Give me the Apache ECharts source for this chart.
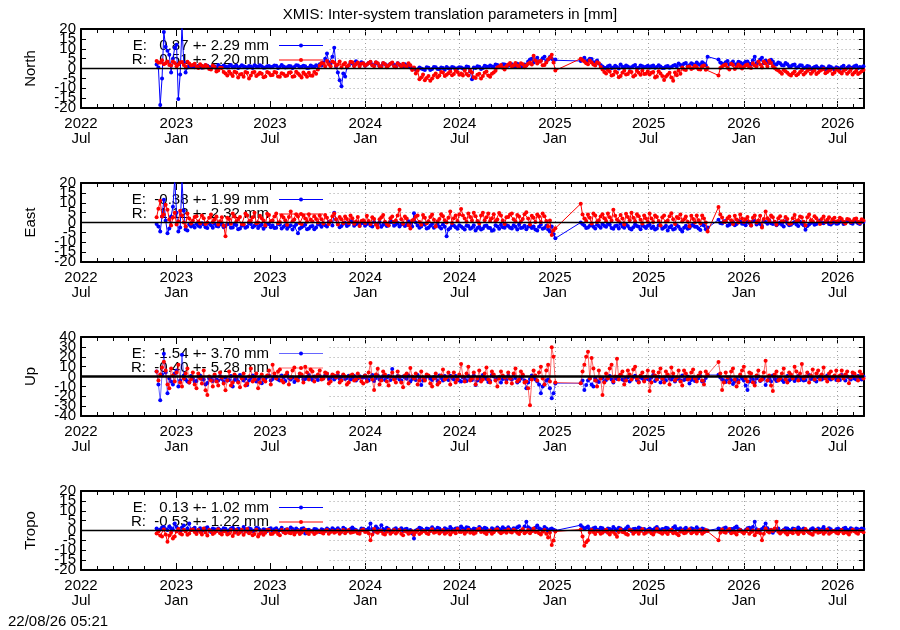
<!DOCTYPE html>
<html>
<head>
<meta charset="utf-8">
<script src="https://cdn.jsdelivr.net/npm/echarts@6/dist/echarts.min.js"></script>
<style>
html, body { margin: 0; padding: 0; background: #fff; }
#chart { width: 900px; height: 630px; }
</style>
</head>
<body>
<div id="chart"></div>
<script>
// === DATA ===
// weekly readings start 2022-11-24; the "Mid" arrays are the readings half a week later
const firstEpoch = [2022, 10, 24];
const stepDays = 7;

const northE = [
    2.0, -18.5, 18.5, 9.0, -2.0, 10.5, -15.5, 21, -2.0, 1.5,
    1.2, 0.8, 1.6, 0.9, 1.4, 0.5, 1.1, 1.8, 0.7,
    1.0, 1.3, 0.6, 1.5, 0.9, 1.2, 0.4, 1.0, 1.6, 0.8, 1.1, 0.5, 1.3,
    0.9, 1.4, 0.7, 1.0, 0.6, 1.2, 0.8, 1.5, 0.9, 1.1, 0.4, 1.0, 1.7,
    2.2, 3.0, 7.6, 2.5, 10.5, -2.0, -9.0, -4.0, 1.5, 2.5, 3.7, 1.8, 2.6,
    2.0, 3.2, 1.5, 2.4, 1.0, 2.2, 1.6, 2.8, 1.2, 2.0, 0.8, 1.5, 0.5,
    0.2, -0.5, 0.0, -0.8, 0.4, -0.2, 0.6, -0.4, 0.3, 0.8, -0.3, 0.5, 0.1,
    0.5, -0.2, 0.8, -5.5, 0.3, 0.9, 0.2, 1.0, 1.5, 0.6, 1.8, 1.2, 2.0,
    1.4, 2.2, 1.0, 1.8, 0.8, 1.5, 4.5, 3.0, 5.5, 4.0, 6.0, 4.5, 5.0,
    4.5, null, null, null, null, null, null, 3.8, 5.5, 4.0, 4.8, 3.0, 2.5,
    1.0, 0.2, 1.5, 0.5, 0.8, 2.0, 0.3, 1.0, 0.6, 1.8, 0.4, 1.2, 0.9,
    0.5, 1.5, 0.8, 1.0, 0.2, 1.3, 0.7, 1.8, 2.5, 1.5, 2.8, 1.6, 2.2,
    3.0, 1.8, 2.5, 6.0, null, null, 4.5, 2.5, 3.2, 2.0, 3.5, 2.2, 3.0,
    2.6, 3.6, 2.0, 6.0, 3.0, 5.4, 4.0, 2.8, 3.5, 2.0, 2.6, 1.5, 2.2,
    1.2, 2.0, 0.8, 1.5, 0.5, 1.0, 0.3, 1.2, -0.2, 0.6, 0.0, 0.8, -0.5,
    0.3, 0.8, -0.3, 1.2, 0.5, 1.5, 0.8, 1.2
];
const northEMid = [
    0.5, -5.0, 11.0, 7.0, 5.0, 12.0, -3.0, 3.0, 0.5, 1.0,
    0.6, 1.4, 0.4, 1.7, 0.8, 1.2, 0.3, 1.0, 1.5,
    0.5, 1.8, 1.0, 0.3, 1.6, 0.7, 1.3, 0.2, 1.1, 1.7, 0.4, 1.2, 0.6,
    1.5, 0.3, 1.8, 0.5, 1.3, 0.2, 1.6, 0.6, 1.4, 0.3, 1.5, 0.8, 1.2,
    1.5, 5.0, 3.0, 6.0, 1.0, -6.0, -2.5, 0.5, 3.0, 1.5, 2.8, 3.2, 1.4,
    2.8, 1.8, 3.0, 1.2, 2.6, 1.0, 2.4, 1.8, 2.6, 1.4, 2.2, 0.8, 0.0,
    -0.6, 0.5, -0.4, 0.6, -0.8, 0.8, -0.2, 0.5, -0.6, 0.1, 0.7, -0.4, 0.6,
    0.0, 1.0, -1.5, 0.5, 1.2, -0.2, 1.4, 0.8, 1.0, 2.0, 0.8, 2.2, 1.6,
    2.0, 1.2, 2.4, 1.0, 2.0, 3.5, 5.0, 4.2, 3.6, 5.2, 3.8, 5.8, 4.2,
    null, null, null, null, null, null, null, 4.5, 3.5, 5.0, 3.2, 4.0, 1.8,
    0.4, 1.2, 0.2, 1.4, 0.0, 0.9, 1.5, 0.4, 1.3, 0.2, 1.5, 0.6, 1.4,
    1.2, 0.4, 1.6, 0.3, 1.0, 0.4, 1.4, 1.0, 1.8, 2.4, 1.2, 2.6, 1.8,
    2.2, 3.2, 1.6, null, null, null, 3.0, 1.8, 3.8, 2.6, 2.0, 3.4, 2.2,
    3.4, 2.4, 4.2, 2.6, 4.5, 2.6, 3.2, 4.4, 2.2, 3.0, 1.6, 2.8, 1.0,
    1.8, 0.4, 1.6, 0.2, 1.3, -0.3, 0.8, 0.2, 1.0, -0.4, 1.2, 0.1, 0.6,
    -0.2, 1.4, 0.4, 0.2, 1.2, 0.2, 0.5
];
const northR = [
    3.8, 3.0, 2.2, 3.5, 1.5, 2.8, 2.0, 3.3, 1.0, 2.5,
    1.8, 1.0, 2.2, 0.5, 1.2, -0.5, 0.8, -1.0, 0.2,
    -2.5, -1.5, -3.8, -2.0, -3.0, -4.2, -2.2, -3.5, -1.8, -3.0, -2.6, -4.0, -2.3,
    -3.3, -2.0, -4.2, -2.8, -3.5, -1.9, -3.9, -2.5, -4.5, -3.0, -2.2, -3.7, -2.6,
    1.5, 2.5, 3.8, 1.2, 3.0, 2.0, 0.5, 2.8, 1.6, 3.2, 2.2, 1.0, 2.6,
    2.0, 3.4, 1.2, 2.6, 0.8, 2.2, 1.5, 3.0, 0.6, 1.8, 2.4, 0.9, 1.6,
    0.5, -1.0, -4.5, -6.0, -3.8, -5.0, -2.5, -3.5, -2.0, -3.2, -1.5, -2.8, -1.8,
    -2.5, -1.0, -3.5, -2.0, -4.8, -2.7, -3.8, -1.5, -4.2, -2.0, 0.5, 1.8, -0.5,
    2.0, 1.0, 2.8, 0.8, 2.2, 1.5, 3.0, 6.5, 2.5, 3.8, 1.8, 4.5, 7.0,
    -1.0, null, null, null, null, null, null, 5.0, 3.5, 2.2, 3.0, 1.5, 2.6,
    -0.5, -2.5, -1.5, -3.2, -2.0, -3.8, -1.2, -2.8, -1.8, -3.4, -2.2, -1.0, -2.6,
    -3.0, -1.8, -4.0, -2.5, -5.8, -3.2, -4.5, -2.0, -1.0, 0.5, -0.8, 1.0, 0.2,
    0.8, -0.5, 1.5, 0.2, null, null, -3.5, 1.0, 2.0, -0.5, 1.8, 0.6, 1.2,
    0.8, 2.0, 0.2, 1.5, 3.5, 0.5, 2.5, 4.0, 1.2, -0.5, -1.8, -0.8, -2.2,
    -3.5, -1.5, -2.8, -1.0, -2.2, -0.5, -1.6, -2.8, -1.2, -0.2, -1.8, -0.6, -2.0,
    -1.0, -2.5, -0.5, -1.8, -3.0, -1.2, -2.2, -0.8
];
const northRMid = [
    3.0, 4.2, 2.6, 1.8, 3.6, 1.2, 3.0, 1.8, 3.4, 1.5,
    2.4, 0.2, 1.4, 1.8, -0.2, 1.5, -1.5, 0.4, -1.8,
    -3.5, -2.6, -1.6, -4.5, -2.8, -1.8, -5.0, -2.0, -3.8, -2.2, -4.4, -1.8, -3.4,
    -1.8, -4.0, -2.4, -3.8, -2.2, -4.2, -1.6, -3.4, -2.0, -4.2, -3.6, -1.8, -0.5,
    2.8, 1.0, 2.2, 3.6, 1.4, 3.6, 2.0, 1.0, 3.4, 1.2, 3.0, 2.4, 1.4,
    2.8, 1.6, 3.2, 1.2, 2.8, 0.6, 2.4, 1.2, 2.6, 0.8, 1.4, 2.6, -0.8,
    -2.5, -5.5, -3.0, -4.8, -6.2, -3.6, -4.4, -1.8, -3.8, -2.4, -3.4, -1.2, -3.2,
    -3.5, -2.8, -1.2, -4.4, -3.2, -5.0, -2.2, -3.6, -2.6, -1.2, 1.0, 0.4, 1.2,
    2.8, 1.6, 1.4, 2.6, 0.6, 2.4, 2.0, 4.0, 3.6, 1.6, 3.0, 5.5, 3.0,
    null, null, null, null, null, null, null, 4.2, 2.6, 4.0, 2.0, 3.2, 0.8,
    -1.8, -0.8, -3.6, -1.4, -4.4, -2.2, -3.0, -1.5, -4.0, -1.2, -3.2, -2.8, -1.4,
    -2.2, -4.6, -1.4, -3.8, -4.0, -2.2, -6.2, -3.4, -2.6, -0.5, 0.8, -0.2, 1.4,
    -0.4, 1.2, -0.6, null, null, null, 0.2, 1.6, 0.4, 2.4, -0.2, 2.0, 0.0,
    1.6, 0.6, 2.6, 1.0, 2.0, 3.6, 1.0, 2.8, 0.2, -1.0, -2.6, -1.4, -3.0,
    -2.4, -3.4, -1.8, -3.0, -1.2, -2.6, -0.8, -2.0, -0.6, -2.4, -1.0, -2.8, -0.4,
    -1.8, -1.2, -2.6, -0.4, -2.0, -2.8, -1.4
];
const eastE = [
    -0.7, -4.6, 11.5, -5.4, 3.0, 22, -4.6, 21, -3.5, -1.0,
    -1.5, -0.8, -2.2, -1.0, -2.8, -1.4, -0.5, -2.0, -1.2,
    -1.8, -0.6, -2.5, -1.3, -3.0, -1.0, -2.2, -0.7, -1.6, -2.8, -1.1, -2.0, -0.9,
    -1.5, -2.6, -1.0, -2.2, -3.2, -1.4, -2.0, -5.4, -2.4, -1.2, -3.0, -1.8, -2.5,
    -1.2, -0.5, -2.0, 0.5, 5.0, -0.8, -1.8, -0.2, -1.2, 0.3, -0.9, -1.6, 0.0,
    -0.8, -1.5, 0.2, -1.0, -2.2, -0.4, -1.4, 0.4, -1.0, -2.0, -0.6, -1.2, -0.3,
    4.7, -1.5, -2.0, -1.0, -2.6, -0.8, -1.8, -2.2, -1.0, -7.0, -2.8, -1.5, -3.2,
    -2.0, -3.5, -1.8, -2.6, -4.0, -2.2, -3.0, -1.5, -2.8, -3.8, -2.0, -1.2, -2.6,
    -1.8, -3.0, -2.2, -1.0, -2.5, -3.4, -1.6, -2.0, -4.0, -1.2, -2.8, -3.5, -2.0,
    -8.0, null, null, null, null, null, null, 0.0, -1.5, -2.5, -1.0, -3.0, -1.8,
    -0.8, -2.2, -1.2, -3.2, -1.5, -0.5, -2.6, -1.8, -3.5, -1.0, -2.2, -1.4, -2.8,
    -1.2, -2.0, -3.0, -1.5, -2.5, -4.0, -1.8, -3.2, -2.2, -4.5, -1.6, -2.8, -1.0,
    -2.2, -3.8, -1.5, -2.5, null, null, 1.4, -0.5, 0.8, -1.2, 0.2, -0.8, 0.5,
    -0.6, 0.4, -1.5, 0.8, -0.3, -1.8, 0.2, 1.2, -0.8, -1.4, 0.0, -2.0, -0.5,
    -1.2, 0.3, -1.8, -0.6, -3.7, -1.0, 0.2, -0.8, 1.0, -0.4, 0.6, -1.0, 0.2,
    -0.5, 0.8, -0.2, 1.2, -0.6, 0.4, -0.8, 0.2
];
const eastEMid = [
    -2.0, 3.0, 1.0, -3.0, 8.0, 5.0, -2.5, 6.0, -4.0, -2.0,
    -2.5, -1.6, -0.4, -2.4, -0.6, -2.6, -1.8, -0.8, -2.4,
    -0.8, -2.6, -1.0, -3.4, -1.6, -2.6, -0.4, -2.4, -1.0, -1.6, -3.2, -0.6, -2.4,
    -2.8, -0.8, -3.0, -1.4, -2.0, -3.6, -1.0, -3.0, -1.6, -3.4, -2.0, -3.4, -0.8,
    -2.2, -1.4, 0.4, -1.5, 1.5, -2.4, -0.6, -1.8, 0.6, -1.6, -0.2, -0.4, -1.6,
    -0.2, -2.0, -0.8, 0.2, -1.2, -1.8, 0.2, -1.6, -0.2, -1.0, -1.8, 0.6, -2.0,
    0.0, -2.6, -0.8, -3.0, -1.6, -2.6, -0.8, -3.0, -2.2, -3.6, -1.4, -2.4, -1.4,
    -2.8, -1.6, -3.2, -1.4, -2.8, -3.6, -1.8, -2.6, -4.2, -1.4, -3.2, -2.4, -1.4,
    -2.6, -1.4, -3.6, -2.8, -1.6, -2.2, -2.8, -3.6, -2.2, -3.2, -1.6, -4.6, -6.0,
    null, null, null, null, null, null, null, -0.8, -2.8, -1.6, -2.2, -1.2, -2.6,
    -1.6, -0.6, -2.8, -1.8, -3.0, -2.0, -1.0, -3.0, -2.4, -1.8, -3.4, -2.0, -1.6,
    -2.8, -3.6, -1.4, -3.2, -1.6, -2.4, -3.6, -1.4, -3.4, -2.6, -3.2, -1.6, -2.2,
    -3.0, -1.2, -3.4, null, null, null, -0.2, 0.6, -1.6, -0.4, -1.4, 0.8, -0.6,
    -1.4, -0.2, 0.6, -1.0, -0.8, 0.6, -0.6, -0.4, 0.4, -0.6, -1.2, 0.6, -1.4,
    -0.4, -1.0, 0.4, -1.4, -1.8, -0.2, -1.2, 0.4, -0.2, 0.2, -0.8, -0.2, -0.6,
    0.4, -0.8, 0.6, -0.2, 0.8, -0.4, 0.6
];
const eastR = [
    2.7, 11.0, 4.0, 6.5, -1.5, 5.0, 0.5, 3.5, -2.0, 2.0,
    1.0, 3.2, -0.5, 2.2, 0.0, 4.0, 1.5, -1.0, 2.6,
    -7.0, 1.8, 4.5, 0.5, 2.8, -1.0, 3.5, 1.2, 5.0, 0.0, 2.2, -1.5, 3.8,
    1.0, 4.5, 0.2, 2.5, -1.2, 5.6, 1.5, 3.0, -0.8, 2.0, 4.2, 0.5, 1.8,
    3.5, -0.5, 2.4, 0.8, 4.5, -1.0, 1.6, 3.0, -0.2, 2.2, 0.5, -1.8, 1.2,
    3.4, -0.8, 1.8, -2.5, 2.6, 0.4, -1.5, 3.0, 1.0, 6.4, -0.6, 2.0, -3.0,
    1.5, 3.5, -1.2, 2.4, 0.6, 4.0, -2.0, 1.8, 3.2, 0.0, 5.6, 2.2, 0.8,
    6.8, 2.0, 4.5, 1.0, 3.2, -0.5, 5.0, 2.6, 0.8, 4.2, 1.5, 3.6, -0.8,
    2.8, 4.5, 0.5, 3.0, 1.8, 5.2, -1.0, 2.4, 4.0, 0.2, 3.2, -2.0, -6.3,
    -2.9, null, null, null, null, null, null, 9.5, 2.0, 4.0, -0.5, 3.5, 1.2,
    4.2, 0.8, 2.6, 6.4, 1.5, 3.8, -1.0, 2.8, 5.0, 0.6, 3.2, -0.5, 2.0,
    4.5, 0.2, 2.8, -1.5, 3.6, 1.0, 4.7, -0.8, 2.2, 0.5, 3.0, -2.0, 1.8,
    3.5, -0.5, 2.0, -4.6, null, null, 7.8, 2.5, 0.5, 3.0, -0.8, 1.5, 4.0,
    0.2, 2.8, -1.5, 3.5, 1.0, -2.5, 5.6, 0.8, 2.6, -1.2, 3.2, 0.5, 1.8,
    -0.5, 3.8, 1.2, 2.6, -1.5, 4.0, 0.6, 2.2, -0.8, 3.0, 1.4, 0.0, 2.4,
    0.8, 1.8, -0.5, 1.5, 0.6, 2.0, -0.2, 1.0
];
const eastRMid = [
    7.0, 3.0, 9.0, 1.5, 2.5, -1.0, 6.0, 0.0, 4.5, -0.5,
    2.8, 0.5, 3.6, -0.8, 2.4, 0.2, 3.0, 0.6, -1.5,
    2.4, -0.6, 3.0, 1.8, -0.8, 4.6, 0.4, 2.6, -0.4, 3.4, 1.0, 4.4, 0.6,
    3.0, -0.4, 3.6, 1.2, 2.8, 0.6, 4.2, -0.4, 3.6, 0.4, 1.4, 3.2, 0.0,
    1.6, 3.8, -0.8, 3.2, 1.6, 2.8, -0.4, 1.8, 3.6, -0.6, 2.8, 0.8, -0.2,
    0.8, 2.6, -1.2, 1.6, 3.8, -0.8, 2.2, 0.2, 3.6, 1.6, 3.0, -1.4, 1.0,
    3.0, 0.2, 3.8, -0.4, 2.8, 1.4, 0.6, 4.2, 1.2, 2.4, -0.2, 3.6, 4.0,
    3.6, 0.4, 2.8, 5.0, 0.8, 3.6, 1.2, 4.6, 2.2, 0.6, 4.8, 1.0, 2.6,
    4.0, 1.6, 3.8, 0.4, 4.2, 2.0, 3.4, 0.2, 3.0, 4.6, 0.8, 1.0, -4.0,
    null, null, null, null, null, null, null, 4.0, 0.8, 2.4, 4.6, 0.2, 3.0,
    2.2, 4.6, 1.0, 3.4, 0.6, 2.0, 4.4, 1.2, 2.4, 4.2, 1.4, 3.6, 0.4,
    2.0, 3.6, 0.8, 2.6, 0.4, 3.2, 1.6, 2.8, 4.0, 1.6, 0.4, 3.4, 0.0,
    1.2, 3.6, 0.0, null, null, null, 4.0, 0.2, 2.2, 1.2, 3.4, 0.0, 2.0,
    1.6, 0.4, 2.4, 0.0, 3.4, 1.8, 2.2, 3.6, 0.4, 2.2, 0.6, 2.8, -0.6,
    2.2, 0.6, 3.0, 0.4, 2.6, 1.2, 3.2, 0.6, 1.8, 0.2, 2.6, 1.6, 0.4,
    2.4, 0.4, 1.8, 0.2, 1.8, 0.4, 1.6
];
const upE = [
    5.0, -24.0, 23.0, -17.0, -5.0, 3.0, -10.0, 22.0, -3.0, -6.0,
    -2.0, -4.5, 1.0, -3.0, -6.5, -1.5, 0.5, -4.0, -2.5,
    -1.0, -3.5, -10.0, -2.0, 1.5, -4.0, -8.5, -1.5, 0.0, -3.0, -6.8, -2.0, 1.0,
    -2.5, -0.5, -4.0, -1.0, 2.0, -3.0, -5.5, -1.5, 0.5, -2.5, 1.5, -3.5, -1.0,
    0.5, -2.0, 2.5, -1.5, -3.0, 1.0, -0.5, -2.5, 0.8, -1.8, -4.0, 0.2, -1.0,
    -2.5, -0.5, -4.5, 1.0, -2.0, -3.5, 0.5, 7.5, -1.5, -3.0, 0.0, -2.2, -5.0,
    -1.0, 1.5, -8.5, -2.5, 0.5, -3.5, -1.2, 1.0, -4.0, -2.0, 0.8, -3.0, -1.5,
    -5.0, -2.0, 0.5, -3.5, -8.5, -1.0, 1.5, -2.5, -4.5, 0.0, -2.0, -6.0, -1.0,
    0.8, -3.0, -1.5, -4.5, 1.0, -12.0, -2.5, -0.5, -5.0, -17.0, -8.0, -3.0, -22.0,
    -7.0, null, null, null, null, null, null, -6.8, -13.6, -4.0, -8.0, -2.0, -5.5,
    -1.5, -3.5, 0.5, -6.0, -2.5, 1.0, -4.0, -1.0, -3.0, 0.8, -5.5, -2.0, -0.5,
    -3.5, 1.5, -2.0, -6.0, -1.0, 0.5, -3.0, -5.0, -1.5, 1.0, -2.5, -7.0, -1.0,
    -3.0, 0.5, -4.5, 1.7, null, null, 1.7, -3.0, -5.5, -1.0, -7.5, -2.5, 0.5,
    -4.0, -13.6, -1.5, -6.0, 0.0, -3.0, -8.5, -2.0, 1.0, -4.5, -1.0, -5.5, 0.5,
    -2.5, -4.5, 0.5, -1.5, -3.5, 1.5, -2.0, -5.0, 0.0, -1.5, 1.0, -3.0, -0.5,
    -2.0, 1.5, -4.0, -1.0, 0.5, -3.0, -1.5, 0.0
];
const upEMid = [
    -8.0, 2.0, 4.0, -2.0, -8.0, 6.0, -4.0, 1.0, -5.0, 0.5,
    -5.0, 0.0, -2.5, -8.0, -2.0, -4.5, -3.0, 0.5, -5.5,
    -4.0, 0.5, -3.5, -5.0, -1.0, -2.0, -4.0, 1.0, -5.0, -1.0, -3.5, 0.0, -4.0,
    0.5, -3.0, 1.0, -4.5, -1.5, -1.0, -3.5, 0.5, -3.0, -0.5, -2.0, 0.0, -3.5,
    -1.5, 1.0, -2.5, 0.5, -1.0, -2.5, 1.5, -1.5, -3.0, 0.5, -2.0, -1.0, 1.0,
    -4.0, 1.5, -1.5, -3.0, 0.5, -1.0, -3.5, -1.5, 0.5, -4.0, -1.0, 1.0, -2.5,
    -3.5, -1.0, -4.0, 0.0, -2.0, -0.5, -4.5, -1.5, 0.5, -3.5, -1.5, 0.5, -4.0,
    -1.0, -4.5, -2.5, 1.0, -4.0, -3.0, -1.0, -5.5, 1.5, -3.5, -0.5, -2.5, -3.5,
    -2.0, 1.5, -6.0, -2.0, -4.0, -6.0, 1.0, -3.0, -8.0, -10.0, -4.0, -12.0, -17.0,
    null, null, null, null, null, null, null, -4.0, -8.5, -2.0, -10.0, -4.5, -1.5,
    -5.0, -1.0, -3.0, -1.5, 0.0, -3.0, -1.5, -5.0, -0.5, -3.5, -1.0, -4.0, -2.5,
    -1.0, -4.5, -0.5, -2.5, -4.0, -2.0, -0.5, -2.5, -4.0, -3.5, 0.0, -3.5, -4.5,
    -1.5, -5.0, -1.5, null, null, null, -1.0, -4.0, -2.5, -3.5, -5.0, -4.0, -2.0,
    -9.0, -5.0, -3.0, -2.0, -4.5, -1.5, -4.0, -5.0, -2.5, -2.0, -3.5, -2.5, -4.0,
    -1.0, -2.0, -3.5, -4.0, 0.0, -2.5, -3.5, -1.0, -3.0, -0.5, -2.0, -1.0, -3.5,
    -3.5, -1.0, 0.0, -3.0, -2.0, 0.5, -3.0
];
const upR = [
    5.0, 2.0, 15.0, -8.0, 8.0, -5.0, 12.0, -10.0, 3.0, -6.0,
    4.0, -12.0, -2.0, 6.0, -18.7, -4.0, 2.0, -9.0, -1.0,
    -14.0, 5.0, -6.0, 0.0, -11.0, 3.0, -7.0, 8.0, -3.0, -12.0, 2.0, -5.0, 6.0,
    12.0, -2.0, 7.0, -6.0, 4.0, -1.0, 9.0, -4.0, 2.0, 10.0, -3.0, 5.0, 0.0,
    6.0, -2.0, 3.0, -5.0, 1.0, 4.0, -4.0, 0.0, -6.0, 2.0, -3.0, -1.0, -7.0,
    -5.0, 13.6, -13.6, 7.8, -4.0, 2.0, -9.0, 4.0, -6.0, 0.0, -11.0, 3.0, 8.5,
    -2.0, -8.0, 5.0, -4.0, 1.0, -10.0, 3.0, -6.0, 7.0, -1.0, -8.0, 4.0, -3.0,
    12.6, -5.0, 10.0, -2.0, -8.0, 6.0, -3.0, 9.0, -6.0, 2.0, -10.0, 5.0, -1.0,
    4.0, -7.0, 8.0, -3.0, 2.0, -5.0, -29.0, 6.0, -4.0, 10.0, -8.0, 12.0, 29.5,
    -6.0, null, null, null, null, null, null, -6.8, 12.0, 25.0, 18.7, -4.0, 6.0,
    -18.7, 3.0, 8.0, -5.0, 18.0, 2.0, -8.0, 6.0, -3.0, 10.0, -6.0, 4.0, -1.0,
    -14.6, 5.0, -3.0, 8.0, -6.0, 2.0, 9.0, -4.0, 6.0, -9.0, 3.0, -2.0, 7.0,
    -5.0, 4.0, -8.0, 2.0, null, null, 14.6, -13.6, 4.0, -6.0, 8.0, -10.0, 2.0,
    10.0, -5.0, 3.0, -9.0, 6.0, -3.0, 16.0, 1.0, -14.6, 5.0, -2.0, 8.0, -6.0,
    2.0, 10.0, -4.0, 12.6, 0.0, -6.0, 7.0, 3.0, -3.0, 9.0, -5.0, 5.0, 1.0,
    -4.0, 6.0, 2.0, -6.8, 4.0, 0.0, 5.0, -2.0
];
const upRMid = [
    -4.0, 9.0, 6.0, -12.0, 1.0, 4.0, -6.0, -2.0, 8.0, -3.0,
    -8.0, 3.0, -7.0, -14.0, 0.0, -10.0, -5.0, 4.0, -7.0,
    -4.0, -9.0, 2.0, -6.0, -2.0, -9.0, 0.0, -5.0, 3.0, -6.0, -3.0, 1.0, -8.0,
    3.0, 5.0, -4.0, 1.0, -8.0, 6.0, -2.0, 3.0, -6.0, 4.0, 7.0, -5.0, 2.0,
    -3.0, 4.0, -7.0, 2.0, -1.0, -6.0, 2.0, -8.0, 1.0, -4.0, 3.0, -5.0, 1.0,
    4.0, -3.0, 2.0, -8.0, 5.0, -5.0, 0.0, -3.0, 5.0, -6.0, 1.0, -7.0, 0.0,
    3.0, -4.0, -1.0, 2.0, -7.0, -2.0, -8.0, 1.0, -3.0, 4.0, 0.0, -6.0, 2.0,
    0.0, 3.0, -4.0, 4.0, -2.0, -5.0, 3.0, -3.0, 5.0, -4.0, -2.0, 1.0, -6.0,
    -2.0, 3.0, -5.0, 5.0, -6.0, -12.0, -3.0, 1.0, 4.0, -2.0, 6.0, -5.0, 20.0,
    null, null, null, null, null, null, null, 5.0, 20.0, -2.0, 8.0, -10.0, -2.0,
    -6.0, -2.0, 12.0, 0.0, -3.0, 5.0, -4.0, 2.0, 7.0, -2.0, 1.0, -5.0, 6.0,
    -6.0, 1.0, 4.0, -2.0, 5.0, -8.0, 3.0, -1.0, -5.0, 6.0, -3.0, 4.0, -2.0,
    1.0, -4.0, 5.0, null, null, null, 3.0, -6.0, -1.0, 5.0, -3.0, -6.0, 6.0,
    -2.0, 4.0, -6.0, 1.0, -4.0, 4.0, -4.0, -9.0, 2.0, -4.0, 3.0, -3.0, 4.0,
    -2.0, 5.0, 3.0, -2.0, 4.0, 1.0, -3.0, 6.0, 2.0, -2.0, 3.0, -2.0, 6.0,
    1.0, -2.0, 5.0, -1.0, 3.0, -4.0, 2.0
];
const tropoE = [
    1.0, 0.5, 1.8, 0.2, 1.2, 3.5, 0.8, 1.5, 0.0, 3.5,
    0.8, -0.5, 1.2, 0.2, 1.6, -0.8, 0.6, 1.0, -0.3,
    0.9, 0.1, 1.4, -0.6, 0.5, 1.8, -0.2, 0.7, 0.0, 1.1, -1.0, 0.4, 0.8,
    -0.4, 1.2, 0.3, -0.8, 0.6, 1.5, -0.2, 0.2, 0.9, -1.5, 0.4, -0.5, 0.6,
    -0.8, 0.3, 1.0, -0.3, 0.5, 1.2, -0.6, 0.8, 0.0, 1.5, 0.2, -0.4, 0.9,
    0.3, 3.5, -0.5, 1.0, 2.7, 0.0, 0.8, -0.6, 1.2, 0.4, -0.2, 0.9, 0.3,
    -4.0, 0.5, 1.0, -0.3, 0.8, 1.6, 0.2, 1.0, -0.4, 0.6, 1.8, 0.0, 1.2,
    2.0, 0.5, 1.4, -0.2, 0.8, 1.8, 0.3, 1.0, -0.5, 0.6, 1.5, 0.2, 0.9,
    1.6, -0.3, 0.8, 2.2, 0.4, 4.4, 1.0, 0.0, 2.5, 0.6, 1.8, -0.4, 1.0,
    0.0, null, null, null, null, null, null, 2.7, 1.0, 2.0, 0.5, 1.5, 0.2,
    1.2, -0.5, 0.8, 1.8, 0.0, 1.0, 0.3, 2.0, -0.2, 0.9, 1.5, 0.4, -0.6,
    1.0, 0.2, 1.8, -0.3, 0.6, 1.2, 0.0, 2.2, 0.5, -0.5, 1.4, 0.2, 0.8,
    1.6, -0.4, 0.6, 0.0, null, null, 1.0, 0.2, 1.5, -0.3, 0.8, 2.0, 0.4,
    -1.0, 1.2, 0.5, 4.4, -0.5, 0.8, 3.5, 0.0, -1.2, 0.6, -0.8, 0.4, 1.0,
    -0.5, 0.8, 1.5, -0.2, 0.4, -1.0, 1.2, 0.2, -0.6, 1.8, 0.0, 0.6, -0.3,
    1.0, 0.3, 1.4, -0.2, 0.6, 1.0, 0.2, 0.8
];
const tropoEMid = [
    0.0, 1.5, 0.6, 2.0, 0.4, 1.8, -0.4, 2.5, 1.0, 0.2,
    1.4, 0.4, -0.2, 1.2, 0.2, 1.0, -0.2, 0.4, 1.2,
    -0.4, 1.0, 0.4, 1.0, -0.2, 0.6, 1.2, -0.4, 1.4, 0.2, 0.6, -0.2, 1.2,
    0.6, -0.2, 1.4, 0.4, -0.4, 0.8, 1.0, -0.6, 1.2, 0.2, -0.2, 0.8, 0.0,
    0.6, -0.2, 0.4, 1.2, -0.4, 0.2, 1.4, -0.2, 0.8, 0.6, -0.6, 1.0, 0.2,
    1.2, 0.6, 2.0, 0.0, 0.8, 1.4, -0.2, 0.6, 0.0, 1.2, 0.6, -0.4, -1.5,
    0.0, 1.4, 0.2, 1.0, -0.2, 0.6, 1.4, 0.0, 1.2, 0.2, 0.8, 1.0, 0.4,
    1.0, 1.6, 0.4, 1.0, 0.2, 1.0, 1.4, 0.0, 1.2, 0.4, 0.8, 1.6, 0.4,
    0.6, 1.2, 1.6, 0.0, 2.0, 1.6, 0.2, 1.4, 1.2, 0.2, 1.0, 0.6, 0.4,
    null, null, null, null, null, null, null, 1.6, 1.4, 0.6, 1.2, 0.4, 1.4,
    0.2, 1.0, 0.2, 0.8, 1.4, 0.2, 1.2, 0.6, 0.8, 0.2, 1.0, 0.8, 0.4,
    0.4, 1.2, 0.6, 0.8, 1.4, 0.4, 1.4, 0.8, 1.2, 0.6, 0.2, 1.2, 0.0,
    0.6, 1.0, -0.2, null, null, null, 0.6, 1.2, 0.4, 0.8, 1.4, 0.8, -0.4,
    0.2, 1.4, 1.8, 0.6, 0.2, 1.6, 1.2, 0.4, 0.0, 1.0, -0.2, 1.2, 0.2,
    1.0, 0.2, 0.6, 1.0, -0.4, 0.6, 0.4, 1.0, 0.6, 0.4, 1.2, -0.2, 0.6,
    0.4, 1.0, 0.4, 1.2, 0.0, 0.6, 1.0
];
const tropoR = [
    -1.5, -2.5, 0.5, -5.7, -1.0, -3.0, 0.8, -2.0, -0.5, -1.5,
    0.5, -1.8, -0.8, 1.0, -2.5, -0.2, -1.2, 0.6, -2.0,
    -0.5, -1.5, -2.8, 0.2, -1.0, -2.2, 0.8, -0.6, -1.8, -3.0, -0.4, -1.2, 0.3,
    -1.6, -0.2, -2.4, -0.8, 0.5, -1.4, -2.0, -0.3, -1.0, 0.4, -1.8, -0.6, -1.2,
    -0.4, -1.5, 0.2, -0.8, -1.2, 0.0, -0.6, -1.4, 0.3, -0.9, -0.2, -1.6, 0.5,
    -0.5, -4.9, 0.8, -1.2, -0.3, -2.0, 0.4, -0.8, -1.5, 0.2, -2.4, -0.6, -1.0,
    -2.2, 0.0, -1.2, -0.4, -1.8, 0.6, -0.8, -1.5, 0.2, -1.0, -2.0, -0.3, 0.8,
    -0.8, -1.6, 0.4, -0.5, -1.2, 0.9, -0.4, -1.8, 0.0, -0.9, 0.6, -1.4, -0.2,
    0.5, -1.0, -0.3, -1.8, 0.8, -0.6, -1.4, 1.0, -0.5, -2.0, 0.3, -3.5, -7.4,
    -0.5, null, null, null, null, null, null, 0.5, -7.7, -4.9, 0.2, -1.8, -0.5,
    -1.2, 0.4, -2.0, -0.6, -3.2, 0.5, -1.0, -2.2, 0.0, -0.8, -1.6, 0.6, -1.2,
    -0.4, -2.0, 0.8, -1.0, -0.2, -1.8, 0.4, -0.7, -2.4, 0.0, -1.2, 0.6, -0.8,
    -1.5, 0.2, -0.9, -0.3, null, null, -4.9, 0.5, -1.2, 0.8, -0.5, -2.0, 0.3,
    -1.5, 0.6, -0.8, -2.4, 0.2, -4.9, 1.0, -1.0, -0.3, 4.4, -1.5, 0.0, -2.0,
    -0.6, 0.4, -1.8, -0.2, 0.8, -1.2, -2.2, 0.3, -0.7, -1.6, 0.5, -1.0, -0.4,
    -1.5, 0.2, -0.8, -2.0, 0.4, -1.2, -0.3, -0.9
];
const tropoRMid = [
    -0.5, -3.0, -2.0, -2.5, -4.0, -0.5, -1.5, 0.4, -2.2, 0.2,
    -0.8, 0.2, -2.0, -1.0, 0.2, -1.8, -0.2, -1.4, -0.4,
    -2.0, 0.2, -1.2, -1.8, 0.4, -0.6, -1.4, -2.4, 0.4, -1.6, -2.2, 0.2, -1.8,
    -0.8, -1.8, 0.2, -1.4, -1.2, -0.4, -0.8, -1.8, 0.0, -1.2, -0.4, -1.8, -0.6,
    -1.0, -0.2, -1.6, -0.2, -0.6, -1.6, 0.2, -0.4, -1.2, -0.6, -1.4, 0.0, -0.8,
    -1.4, -2.0, -0.6, -0.2, -1.6, -0.6, -1.6, 0.2, -0.6, -1.6, -0.2, -1.6, -0.4,
    -0.8, -1.8, -0.2, -1.4, -0.2, -1.2, -0.2, -0.6, -1.6, -0.4, -0.8, -1.4, -0.6,
    -0.2, -0.6, -1.2, -1.6, 0.2, -0.8, -1.2, -0.4, -1.6, 0.2, -0.6, -0.8, -1.2,
    -0.6, 0.4, -1.2, -0.4, -1.4, 0.2, -0.4, -0.8, -1.4, -0.6, -1.6, -1.0, -5.0,
    null, null, null, null, null, null, null, -3.0, -6.0, -1.0, -0.8, -0.2, -1.6,
    -0.4, -1.2, -0.6, -1.8, -0.8, -0.8, -1.8, 0.2, -1.6, -0.4, -0.2, -1.6, -0.2,
    -1.4, -0.6, -0.6, -1.6, -1.0, -0.4, -1.4, -1.6, -0.6, -1.4, -0.2, -1.4, -0.2,
    -0.4, -1.6, 0.2, null, null, null, -1.2, -0.8, 0.0, -1.4, -1.2, -0.4, -0.8,
    -0.4, -1.6, 0.0, -1.0, -1.4, -1.6, -0.4, 0.2, 1.0, -0.6, -0.6, -1.2, -0.8,
    -1.4, -0.8, -0.6, -1.4, -0.4, -1.6, -0.6, -1.2, -0.2, -0.8, -1.6, -0.2, -1.2,
    -0.4, -1.4, -1.2, -0.6, -0.4, -1.6, -0.2
];

const panelNames = ['North', 'East', 'Up', 'Tropo'];
const keyE = ['E:   0.87 +- 2.29 mm', 'E:  -0.38 +- 1.99 mm', 'E:  -1.54 +- 3.70 mm', 'E:   0.13 +- 1.02 mm'];
const keyR = ['R:   0.51 +- 2.20 mm', 'R:   1.12 +- 2.32 mm', 'R:  -0.40 +- 5.28 mm', 'R:  -0.53 +- 1.22 mm'];
const yRanges = [[-20, 20, 5], [-20, 20, 5], [-40, 40, 10], [-20, 20, 5]];
const titleText = 'XMIS: Inter-system translation parameters in [mm]';
const stampText = '22/08/26 05:21';
const monthNames = ['Jan', 'Feb', 'Mar', 'Apr', 'May', 'Jun', 'Jul', 'Aug', 'Sep', 'Oct', 'Nov', 'Dec'];

// === CONFIG ===
const FONT = '"Liberation Sans", Arial, Helvetica, sans-serif';
const FS = 15;
const BLUE = '#0000ff';
const RED = '#ff0000';
const GRID_GRAY = '#a0a0a0';
const PANEL_TOPS = [29, 183, 337, 491];
const PANEL_H = 79;
const PLOT_LEFT = 81;
const PLOT_RIGHT = 864;
const DAY = 86400000;
// the Up panel is drawn with a heavier zero line and softer connecting lines
const ZERO_WIDTH = [1.5, 1.5, 2.5, 1.5];
const LINE_OPACITY = [1, 1, 0.6, 1];

const xMin = new Date(2022, 6, 1).getTime();
const xMax = new Date(2026, 7, 21).getTime();
const gridFrom = new Date(2023, 9, 24).getTime(); // key box ends here, grid starts
const vGrid = [[2024, 0], [2024, 6], [2025, 0], [2025, 6], [2026, 0], [2026, 6]]
    .map(([y, m]) => new Date(y, m, 1).getTime());

const seriesE = [[northE, northEMid], [eastE, eastEMid], [upE, upEMid], [tropoE, tropoEMid]];
const seriesR = [[northR, northRMid], [eastR, eastRMid], [upR, upRMid], [tropoR, tropoRMid]];

// weekly value, then the half-week value that follows it
function toPoints(weekly, mid) {
    const out = [];
    weekly.forEach((v, i) => {
        out.push([new Date(firstEpoch[0], firstEpoch[1], firstEpoch[2] + stepDays * i).getTime(), v]);
        if (i < mid.length) {
            out.push([new Date(firstEpoch[0], firstEpoch[1], firstEpoch[2] + stepDays * i + 3, 12).getTime(), mid[i]]);
        }
    });
    return out;
}

// === AXES ===
// major: half-year ticks with labels; minor: monthly ticks only
function xAxisFor(k, top, minor) {
    return {
        type: 'time',
        gridIndex: k,
        position: top ? 'top' : 'bottom',
        min: xMin,
        max: xMax,
        splitNumber: minor ? 50 : 8,
        minInterval: minor ? 28 * DAY : 180 * DAY,
        maxInterval: minor ? 31 * DAY : 185 * DAY,
        axisLine: { show: !minor, onZero: false, lineStyle: { color: '#000', width: 2 } },
        axisTick: { show: true, inside: true, length: minor ? 4 : 7, lineStyle: { color: '#000', width: 1 } },
        minorTick: { show: false },
        axisLabel: {
            show: !top && !minor,
            margin: 8,
            color: '#000',
            fontSize: FS,
            fontFamily: FONT,
            lineHeight: 15,
            showMinLabel: true,
            formatter: function (value) {
                const d = new Date(value);
                return d.getFullYear() + '\n' + monthNames[d.getMonth()];
            }
        },
        splitLine: { show: false }
    };
}

// role: 'main' (left, inner labels), 'right' (mirror ticks), 'ends' (left, labels at min/max only)
function yAxisFor(k, role) {
    const r = yRanges[k];
    const isEnd = v => v === r[0] || v === r[1];
    return {
        type: 'value',
        gridIndex: k,
        position: role === 'right' ? 'right' : 'left',
        min: r[0],
        max: r[1],
        interval: r[2],
        axisLine: { show: role !== 'ends', lineStyle: { color: '#000', width: 2 } },
        axisTick: { show: role !== 'ends', inside: true, length: 5, lineStyle: { color: '#000', width: 1 } },
        axisLabel: {
            show: role !== 'right', margin: 5, color: '#000', fontSize: FS, fontFamily: FONT,
            showMinLabel: role === 'ends' ? true : null,
            showMaxLabel: role === 'ends' ? true : null,
            formatter: v => (role === 'ends' ? (isEnd(v) ? String(v) : '') : (isEnd(v) ? '' : String(v)))
        },
        splitLine: { show: false }
    };
}

// === SERIES ===
function panelSeries(k) {
    const r = yRanges[k];
    const hLines = [];
    for (let v = r[0] + r[2]; v < r[1]; v += r[2]) {
        if (v === 0) continue;
        hLines.push([{ coord: [gridFrom, v] }, { coord: [xMax, v] }]);
    }
    const vLines = vGrid.map(t => ({ xAxis: t }));

    const common = {
        type: 'line',
        xAxisIndex: 4 * k,
        yAxisIndex: 3 * k,
        symbol: 'circle',
        symbolSize: 4,
        showSymbol: true,
        connectNulls: true,
        clip: true,
        silent: true
    };
    return [
        {
            // zero line + dotted grid
            type: 'line',
            xAxisIndex: 4 * k,
            yAxisIndex: 3 * k,
            data: [[xMin, 0], [xMax, 0]],
            symbol: 'none',
            silent: true,
            z: 5,
            lineStyle: { color: '#000', width: ZERO_WIDTH[k] },
            markLine: {
                silent: true,
                z: 1,
                symbol: ['none', 'none'],
                label: { show: false },
                lineStyle: { color: GRID_GRAY, type: [1, 3], width: 1 },
                data: hLines.concat(vLines)
            }
        },
        Object.assign({}, common, {
            name: 'E', data: toPoints(seriesE[k][0], seriesE[k][1]), z: 2,
            itemStyle: { color: BLUE }, lineStyle: { color: BLUE, width: 1, opacity: LINE_OPACITY[k] }
        }),
        Object.assign({}, common, {
            name: 'R', data: toPoints(seriesR[k][0], seriesR[k][1]), z: 3,
            itemStyle: { color: RED }, lineStyle: { color: RED, width: 1, opacity: LINE_OPACITY[k] }
        })
    ];
}

// === TEXT (title, key, axis names) ===
function graphicItems() {
    const items = [
        { type: 'text', x: 450, y: 15, z: 1,
          style: { text: titleText, font: FS + 'px ' + FONT, fill: '#000', textAlign: 'center', textVerticalAlign: 'middle' } },
        { type: 'text', x: 8, y: 622, z: 1,
          style: { text: stampText, font: FS + 'px ' + FONT, fill: '#000', textAlign: 'left', textVerticalAlign: 'middle' } }
    ];
    PANEL_TOPS.forEach((top, k) => {
        items.push({ type: 'text', x: 31, y: top + PANEL_H / 2, rotation: Math.PI / 2, z: 1,
            style: { text: panelNames[k], font: FS + 'px ' + FONT, fill: '#000', textAlign: 'center', textVerticalAlign: 'middle' } });
        [[keyE[k], BLUE, 16.5], [keyR[k], RED, 31]].forEach(([txt, col, dy]) => {
            const y = top + dy;
            items.push({ type: 'text', x: 269, y: y, z: 1,
                style: { text: txt, font: FS + 'px ' + FONT, fill: '#000', textAlign: 'right', textVerticalAlign: 'middle' } });
            items.push({ type: 'line', z: 1, shape: { x1: 279, y1: y, x2: 323, y2: y },
                style: { stroke: col, lineWidth: 1, opacity: LINE_OPACITY[k] } });
            items.push({ type: 'circle', z: 1, shape: { cx: 301, cy: y, r: 2 },
                style: { fill: col } });
        });
    });
    return items;
}

// === RENDER ===
const chart = echarts.init(document.getElementById('chart'));
const xAxes = [], yAxes = [], series = [];
PANEL_TOPS.forEach((top, k) => {
    xAxes.push(xAxisFor(k, false, false), xAxisFor(k, true, false),
               xAxisFor(k, false, true), xAxisFor(k, true, true));
    yAxes.push(yAxisFor(k, 'main'), yAxisFor(k, 'right'), yAxisFor(k, 'ends'));
    series.push(...panelSeries(k));
});

chart.setOption({
    animation: false,
    backgroundColor: '#fff',
    textStyle: { fontFamily: FONT },
    grid: PANEL_TOPS.map(top => ({
        left: PLOT_LEFT, width: PLOT_RIGHT - PLOT_LEFT, top: top, height: PANEL_H
    })),
    xAxis: xAxes,
    yAxis: yAxes,
    series: series,
    graphic: graphicItems()
});
</script>
</body>
</html>
